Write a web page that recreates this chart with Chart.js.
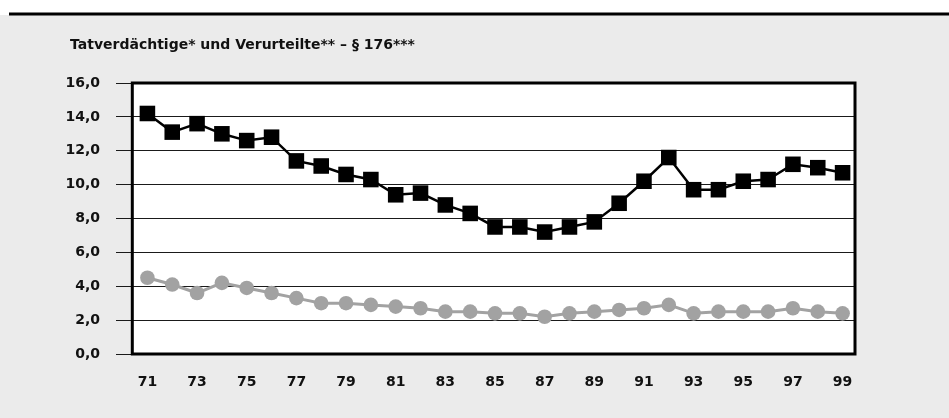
<!DOCTYPE html>
<html>
<head>
<meta charset="utf-8">
<script src="https://cdn.jsdelivr.net/npm/chart.js@4"></script>
<style>
  html, body { margin: 0; padding: 0; background: #ebebeb; }
  #wrap { width: 949px; height: 418px; }
</style>
</head>
<body>
<div id="wrap"><canvas id="chart" width="949" height="418"></canvas></div>
<script>
// Tatverdächtige / Verurteilte, 1971-1999
var years = ["71","72","73","74","75","76","77","78","79","80","81","82","83","84","85",
             "86","87","88","89","90","91","92","93","94","95","96","97","98","99"];
var tatverdaechtige = [14.2,13.1,13.6,13.0,12.6,12.8,11.4,11.1,10.6,10.3,9.4,9.5,8.8,8.3,7.5,
                       7.5,7.2,7.5,7.8,8.9,10.2,11.6,9.7,9.7,10.2,10.3,11.2,11.0,10.7];
var verurteilte = [4.5,4.1,3.6,4.2,3.9,3.6,3.3,3.0,3.0,2.9,2.8,2.7,2.5,2.5,2.4,
                   2.4,2.2,2.4,2.5,2.6,2.7,2.9,2.4,2.5,2.5,2.5,2.7,2.5,2.4];
var yTicks = [0, 2, 4, 6, 8, 10, 12, 14, 16];
var title = "Tatverdächtige* und Verurteilte** – § 176***";

var font = "'DejaVu Sans'";

// background, title, plot frame
var frame = {
  id: 'frame',
  beforeDraw: function(chart) {
    var ctx = chart.ctx, a = chart.chartArea;
    ctx.save();
    ctx.fillStyle = '#ffffff';
    ctx.fillRect(0, 0, chart.width, chart.height);
    ctx.fillStyle = '#ebebeb';
    ctx.fillRect(0, 15, chart.width, chart.height - 15);
    ctx.fillStyle = '#000000';
    ctx.fillRect(9, 12.5, chart.width - 9, 3);
    ctx.fillStyle = '#ffffff';
    ctx.fillRect(132, a.top, a.right - 132, a.bottom - a.top);
    ctx.fillStyle = '#111111';
    ctx.font = "bold 14px " + font;
    ctx.textBaseline = 'alphabetic';
    ctx.fillText(title, 70, 48.5);
    ctx.restore();
  },
  beforeDatasetsDraw: function(chart) {
    var ctx = chart.ctx, a = chart.chartArea;
    ctx.save();
    ctx.strokeStyle = '#000000';
    ctx.lineWidth = 3;
    ctx.strokeRect(132.3, a.top, a.right - 132.3, a.bottom - a.top);
    ctx.restore();
  }
};

new Chart(document.getElementById("chart"), {
  type: 'line',
  data: {
    labels: years,
    datasets: [
      {
        label: "Verurteilte",
        data: verurteilte,
        borderColor: '#a2a2a2',
        backgroundColor: '#a2a2a2',
        borderWidth: 3,
        pointStyle: 'circle',
        pointRadius: 7.3,
        pointBorderWidth: 0,
        tension: 0
      },
      {
        label: "Tatverdächtige",
        data: tatverdaechtige,
        borderColor: '#000000',
        backgroundColor: '#000000',
        borderWidth: 2.5,
        pointStyle: 'rect',
        pointRadius: 11,
        pointBorderWidth: 0,
        tension: 0
      }
    ]
  },
  options: {
    responsive: false,
    animation: false,
    layout: { padding: { top: 83, right: 94, bottom: 0, left: 0 } },
    plugins: {
      legend: { display: false },
      title: { display: false },
      tooltip: { enabled: false }
    },
    scales: {
      x: {
        offset: true,
        grid: { display: false, drawTicks: false },
        border: { display: false },
        ticks: {
          autoSkip: false,
          maxRotation: 0,
          padding: 20,
          color: '#111111',
          font: { family: font, size: 14, weight: 'bold' },
          callback: function(v, i) { return i % 2 === 0 ? years[i] : ''; }
        },
        afterFit: function(s) { s.height = 64; }
      },
      y: {
        min: 0,
        max: 16,
        afterBuildTicks: function(s) { s.ticks = yTicks.map(function(v) { return { value: v }; }); },
        grid: { color: '#1a1a1a', lineWidth: 1, tickLength: 19 },
        border: { display: false },
        ticks: {
          padding: 16,
          color: '#111111',
          font: { family: font, size: 14, weight: 'bold' },
          callback: function(v) { return v.toFixed(1).replace('.', ','); }
        },
        afterFit: function(s) { s.width = 135; }
      }
    }
  },
  plugins: [frame]
});
</script>
</body>
</html>
